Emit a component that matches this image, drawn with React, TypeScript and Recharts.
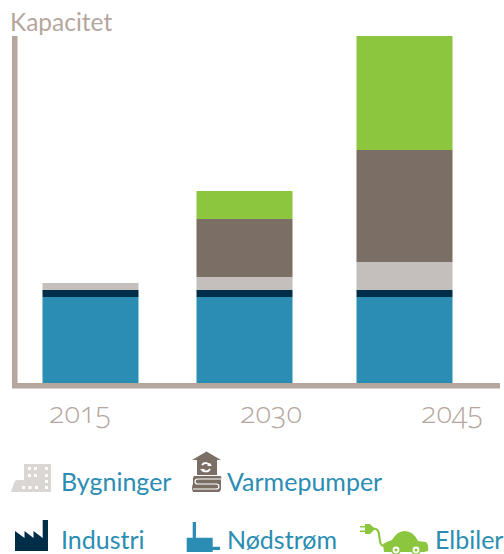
import React from "react";
import { BarChart, Bar, XAxis, YAxis } from "recharts";

const years = [2015, 2030, 2045];
const nodstrom = [86, 86, 86];
const industri = [7, 7, 7];
const bygninger = [7, 13, 28];
const varmepumper = [0, 58, 112];
const elbiler = [0, 28, 114];
const rows = years.map((year, i) => ({
  year,
  nodstrom: nodstrom[i],
  industri: industri[i],
  bygninger: bygninger[i],
  varmepumper: varmepumper[i],
  elbiler: elbiler[i],
}));

const TEAL = "#2b8db3";
const NAVY = "#002d48";
const GREY = "#c4bfbd";
const BROWN = "#7b6e65";
const GREEN = "#8cc63f";
const AXIS = "#b5a69e";
const FONT = "Lato, sans-serif";

const barNudge = [0, -3, 0];
const tickNudge = [-10, 24, 48];

const StackBar = (p: any) => (
  <rect x={p.x + barNudge[p.index]} y={p.y} width={p.width} height={p.height} fill={p.fill} />
);

const YearTick = (p: any) => (
  <text
    x={p.x + tickNudge[p.index]}
    y={423}
    textAnchor="middle"
    fill={AXIS}
    fontFamily='"Open Sans", sans-serif'
    fontSize={29}
    fontWeight={300}
    style={{ fontFeatureSettings: '"onum"', fontVariantNumeric: "oldstyle-nums" }}
  >
    {p.payload.value}
  </text>
);

const LegendText = ({ x, y, children }: any) => (
  <text x={x} y={y} fill={TEAL} fontFamily={FONT} fontSize={25}>
    {children}
  </text>
);

export default function App() {
  return (
    <div style={{ position: "absolute", left: 0, top: 0, width: 504, height: 554, background: "#fff" }}>
      <BarChart
        width={504}
        height={554}
        data={rows}
        margin={{ top: 36, right: 6.75, bottom: 111, left: 0 }}
        barSize={96}
        barGap={0}
      >
        <XAxis
          dataKey="year"
          type="number"
          domain={[2015, 2045]}
          ticks={years}
          padding={{ left: 75.25, right: 93.25 }}
          height={60}
          tickLine={false}
          tick={YearTick}
          interval={0}
          axisLine={{
            stroke: AXIS,
            strokeWidth: 5.5,
            strokeLinecap: "square",
            transform: "translate(0,2.75)",
          }}
        />
        <YAxis
          domain={[0, 347]}
          width={14.75}
          tick={false}
          tickLine={false}
          axisLine={{ stroke: AXIS, strokeWidth: 5.5 }}
        />
        <Bar dataKey="nodstrom" stackId="a" fill={TEAL} shape={StackBar} isAnimationActive={false} />
        <Bar dataKey="industri" stackId="a" fill={NAVY} shape={StackBar} isAnimationActive={false} />
        <Bar dataKey="bygninger" stackId="a" fill={GREY} shape={StackBar} isAnimationActive={false} />
        <Bar dataKey="varmepumper" stackId="a" fill={BROWN} shape={StackBar} isAnimationActive={false} />
        <Bar dataKey="elbiler" stackId="a" fill={GREEN} shape={StackBar} isAnimationActive={false} />

        <text x={10} y={31} fill={AXIS} fontFamily={FONT} fontSize={24.5}>Kapacitet</text>

        {/* Bygninger icon */}
        <path
          fill="#d9d6d4"
          fillRule="evenodd"
          d="M11 492L14 483L16 480H24V464H51V492Z M28 467h3v3h-3z M34 467h3v3h-3z M45 467h3v3h-3z M28 474h3v3h-3z M34 474h3v3h-3z M45 474h3v3h-3z M45 480h3v3h-3z M22 486h3v3h-3z M28.500 486h3v3h-3z M35 486h3v3h-3z M45 486h3v3h-3z"
        />
        {/* Varmepumper icon */}
        <g>
          <path fill={BROWN} d="M192 460L206.500 451.500L221 460H217V475H197V460Z" />
          <path fill="none" stroke="#fff" strokeWidth={1.8} d="M202 465A4.500 4.500 0 0 1 210 466M210 469A4.500 4.500 0 0 1 202 469" />
          <path fill="#fff" d="M207 466H212L210 463Z M200 469H205L203 472Z" />
          <path fill={BROWN} d="M194 476H220Q222 476 221 480V488Q221 492 218 492H193Q191 488 193 484V478Z" />
          <path fill="none" stroke="#fff" strokeWidth={1.2} d="M221 479H198Q195 479 195 481.500Q195 484 198 484H216Q219 484 219 486.500Q219 489 216 489H193" />
        </g>
        {/* Industri icon */}
        <path fill={NAVY} d="M15 551V531L24.500 538V531L33.500 538V531L42.700 538V520H48V551Z" />
        {/* Nodstrom icon */}
        <path fill={TEAL} d="M192.700 522H196V537.700H212.700V546.700H220V550H212.700V552H186.700V537.700H192.700Z" />
        {/* Elbiler icon */}
        <g>
          <path fill="none" stroke={GREEN} strokeWidth={2.2} d="M373 528.500C379 528.500 379 533 379.500 538C380 544 381 546 385 546" />
          <path fill={GREEN} d="M360 526H365V524H370L374 528V530L370 534H365V532H360V530.500H365V527.500H360Z" />
          <path fill={GREEN} d="M384 552L383 544Q388 541 392 540Q397 531 405 531Q413 531 418 541L426 542Q429 545 428 551L424 552Z" />
          <circle cx={396} cy={550} r={5} fill={GREEN} />
          <circle cx={396} cy={550} r={3.4} fill="#fff" />
          <circle cx={396} cy={550} r={1.5} fill={GREEN} />
          <circle cx={416} cy={550} r={5} fill={GREEN} />
          <circle cx={416} cy={550} r={3.4} fill="#fff" />
          <circle cx={416} cy={550} r={1.5} fill={GREEN} />
        </g>

        <LegendText x={61} y={491}>Bygninger</LegendText>
        <LegendText x={227} y={491}>Varmepumper</LegendText>
        <LegendText x={61} y={549}>Industri</LegendText>
        <LegendText x={227} y={549}>Nødstrøm</LegendText>
        <LegendText x={435} y={549}>Elbiler</LegendText>
      </BarChart>
    </div>
  );
}
